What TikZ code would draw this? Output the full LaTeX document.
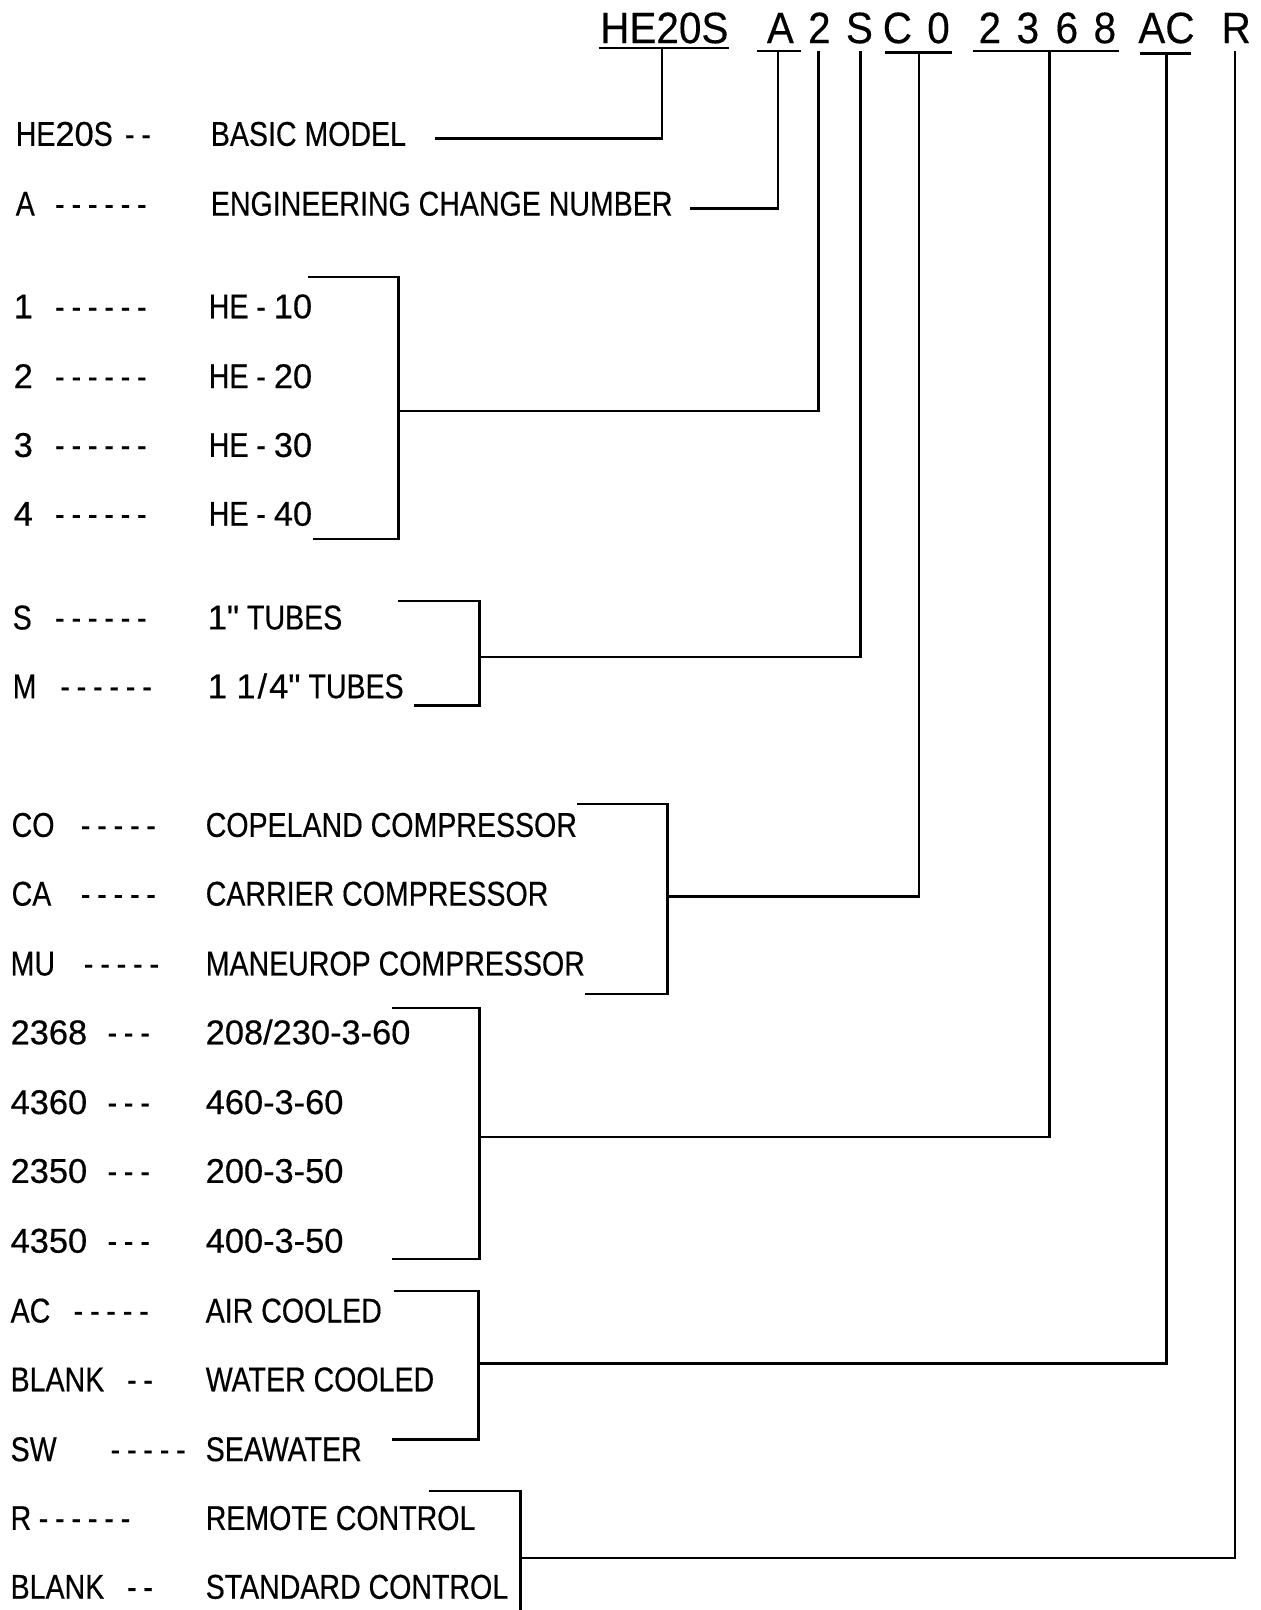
\documentclass[tikz,border=0pt]{standalone}
\usepackage{fontspec}
\newfontfamily\lblfont{Liberation Sans}[FakeStretch=0.83,FakeBold=0.4]
\newfontfamily\numfont{Liberation Sans}[FakeStretch=1.0,FakeBold=0.4]
\newfontfamily\hdrfont{Liberation Sans}[FakeStretch=0.92,FakeBold=0.3]
\newcommand\dsh{\makebox[8.2pt]{-}}
\newcommand\dg[1]{{\numfont #1}}
\begin{document}
\begin{tikzpicture}[x=0.51345pt,y=-0.51345pt,
  lbl/.style={anchor=base west, inner sep=0pt, font=\lblfont\fontsize{17.2}{20}\selectfont},
  hdr/.style={anchor=base, inner sep=0pt, font=\hdrfont\fontsize{22}{26}\selectfont},
  ln/.style={line width=1.15pt}]
\useasboundingbox (0,0) rectangle (1228,1568);

% ---------- header ----------
\node[hdr] (hHE) at (647,42) {HE20S};
\node[hdr] (hA)  at (760,42) {A};
\node[hdr] (h2)  at (798,42) {2};
\node[hdr] (hS)  at (837,42) {S};
\node[hdr] (hC)  at (874,42) {C};
\node[hdr] (hO)  at (914,42) {0};
\node[hdr] (hd1) at (964,42) {2};
\node[hdr] (hd2) at (1001,42) {3};
\node[hdr] (hd3) at (1039,42) {6};
\node[hdr] (hd4) at (1076,42) {8};
\node[hdr] (hAC) at (1136,42) {AC};
\node[hdr] (hR)  at (1204,42) {R};

% underlines
\draw[ln] (583,47) -- (710,47);
\draw[ln] (737,50) -- (780,50);
\draw[ln] (862,51) -- (927,51);
\draw[ln] (948,50) -- (1090,50);
\draw[ln] (1110,52) -- (1160,52);

% ---------- codes ----------
\node[lbl] (cHE) at (15,142) {HE\dg{20}S};   \node[lbl] (xHE) at (118,142) {\dsh\dsh};
\node[lbl] (cA)  at (15,210) {A};       \node[lbl] (xA)  at (50,210) {\dsh\dsh\dsh\dsh\dsh\dsh};
\node[lbl] (c1)  at (13,310) {\dg{1}};  \node[lbl] (x1)  at (50,310) {\dsh\dsh\dsh\dsh\dsh\dsh};
\node[lbl] (c2)  at (13,378) {\dg{2}};  \node[lbl] (x2)  at (50,378) {\dsh\dsh\dsh\dsh\dsh\dsh};
\node[lbl] (c3)  at (13,445) {\dg{3}};  \node[lbl] (x3)  at (50,445) {\dsh\dsh\dsh\dsh\dsh\dsh};
\node[lbl] (c4)  at (13,512) {\dg{4}};  \node[lbl] (x4)  at (50,512) {\dsh\dsh\dsh\dsh\dsh\dsh};
\node[lbl] (cS)  at (12,613) {S};       \node[lbl] (xS)  at (50,613) {\dsh\dsh\dsh\dsh\dsh\dsh};
\node[lbl] (cM)  at (12,680) {M};       \node[lbl] (xM)  at (55,680) {\dsh\dsh\dsh\dsh\dsh\dsh};
\node[lbl] (cCO) at (11,815) {CO};      \node[lbl] (xCO) at (75,815) {\dsh\dsh\dsh\dsh\dsh};
\node[lbl] (cCA) at (11,882) {CA};      \node[lbl] (xCA) at (75,882) {\dsh\dsh\dsh\dsh\dsh};
\node[lbl] (cMU) at (10,950) {MU};      \node[lbl] (xMU) at (78,950) {\dsh\dsh\dsh\dsh\dsh};
\node[lbl] (c68) at (10,1017) {\dg{2368}};   \node[lbl] (x68) at (101,1017) {\dsh\dsh\dsh};
\node[lbl] (c60) at (10,1085) {\dg{4360}};   \node[lbl] (x60) at (101,1085) {\dsh\dsh\dsh};
\node[lbl] (c50) at (10,1152) {\dg{2350}};   \node[lbl] (x50) at (101,1152) {\dsh\dsh\dsh};
\node[lbl] (c40) at (10,1220) {\dg{4350}};   \node[lbl] (x40) at (101,1220) {\dsh\dsh\dsh};
\node[lbl] (cAC) at (10,1288) {AC};     \node[lbl] (xAC) at (68,1288) {\dsh\dsh\dsh\dsh\dsh};
\node[lbl] (cBW) at (10,1355) {BLANK};  \node[lbl] (xBW) at (120,1355) {\dsh\dsh};
\node[lbl] (cSW) at (10,1423) {SW};     \node[lbl] (xSW) at (104,1423) {\dsh\dsh\dsh\dsh\dsh};
\node[lbl] (cR)  at (10,1490) {R};      \node[lbl] (xR)  at (34,1490) {\dsh\dsh\dsh\dsh\dsh\dsh};
\node[lbl] (cBS) at (10,1557) {BLANK};  \node[lbl] (xBS) at (120,1557) {\dsh\dsh};

% ---------- descriptions ----------
\node[lbl] (dHE) at (205,142) {BASIC MODEL};
\node[lbl] (dA)  at (205,210) {ENGINEERING CHANGE NUMBER};
\node[lbl] (d1)  at (203,310) {HE - \dg{10}};
\node[lbl] (d2)  at (203,378) {HE - \dg{20}};
\node[lbl] (d3)  at (203,445) {HE - \dg{30}};
\node[lbl] (d4)  at (203,512) {HE - \dg{40}};
\node[lbl] (dS)  at (202,613) {\dg{1"} TUBES};
\node[lbl] (dM)  at (202,680) {\dg{1 1\hspace{1pt}/\hspace{1pt}4"} TUBES};
\node[lbl] (dCO) at (200,815) {COPELAND COMPRESSOR};
\node[lbl] (dCA) at (200,882) {CARRIER COMPRESSOR};
\node[lbl] (dMU) at (200,950) {MANEUROP COMPRESSOR};
\node[lbl] (d68) at (200,1017) {\dg{208/230-3-60}};
\node[lbl] (d60) at (200,1085) {\dg{460-3-60}};
\node[lbl] (d50) at (200,1152) {\dg{200-3-50}};
\node[lbl] (d40) at (200,1220) {\dg{400-3-50}};
\node[lbl] (dAC) at (200,1288) {AIR COOLED};
\node[lbl] (dBW) at (200,1355) {WATER COOLED};
\node[lbl] (dSW) at (200,1423) {SEAWATER};
\node[lbl] (dR)  at (200,1490) {REMOTE CONTROL};
\node[lbl] (dBS) at (200,1557) {STANDARD CONTROL};

% ---------- coordinates ----------
\coordinate (vHE) at (645,47);   \coordinate (eHE) at (424,135);
\coordinate (vA)  at (758,50);   \coordinate (eA)  at (672,203);
\coordinate (v2)  at (797,50);
\coordinate (vS)  at (838,50);
\coordinate (vCO) at (895,51);
\coordinate (v68) at (1022,50);
\coordinate (vAC) at (1136,52);
\coordinate (vR)  at (1203,50);

\coordinate (b1t) at (300,270); \coordinate (b1j) at (388,400); \coordinate (b1b) at (305,525);
\coordinate (b2t) at (388,585); \coordinate (b2j) at (467,640); \coordinate (b2b) at (403,687);
\coordinate (b3t) at (562,783); \coordinate (b3j) at (650,873); \coordinate (b3b) at (570,968);
\coordinate (b4t) at (382,982); \coordinate (b4j) at (467,1107); \coordinate (b4b) at (382,1226);
\coordinate (b5t) at (384,1257); \coordinate (b5j) at (466,1328); \coordinate (b5b) at (382,1402);
\coordinate (b6t) at (418,1452); \coordinate (b6j) at (507,1517); \coordinate (b6b) at (507,1575);

% ---------- connectors ----------
\draw[ln] (vHE) |- (eHE);
\draw[ln] (vA) |- (eA);
\draw[ln] (b1t) -| (b1j) |- (b1b);
\draw[ln] (v2) |- (b1j);
\draw[ln] (b2t) -| (b2j) |- (b2b);
\draw[ln] (vS) |- (b2j);
\draw[ln] (b3t) -| (b3j) |- (b3b);
\draw[ln] (vCO) |- (b3j);
\draw[ln] (b4t) -| (b4j) |- (b4b);
\draw[ln] (v68) |- (b4j);
\draw[ln] (b5t) -| (b5j) |- (b5b);
\draw[ln] (vAC) |- (b5j);
\draw[ln] (b6t) -| (b6j) -- (b6b);
\draw[ln] (vR) |- (b6j);
\end{tikzpicture}
\end{document}
